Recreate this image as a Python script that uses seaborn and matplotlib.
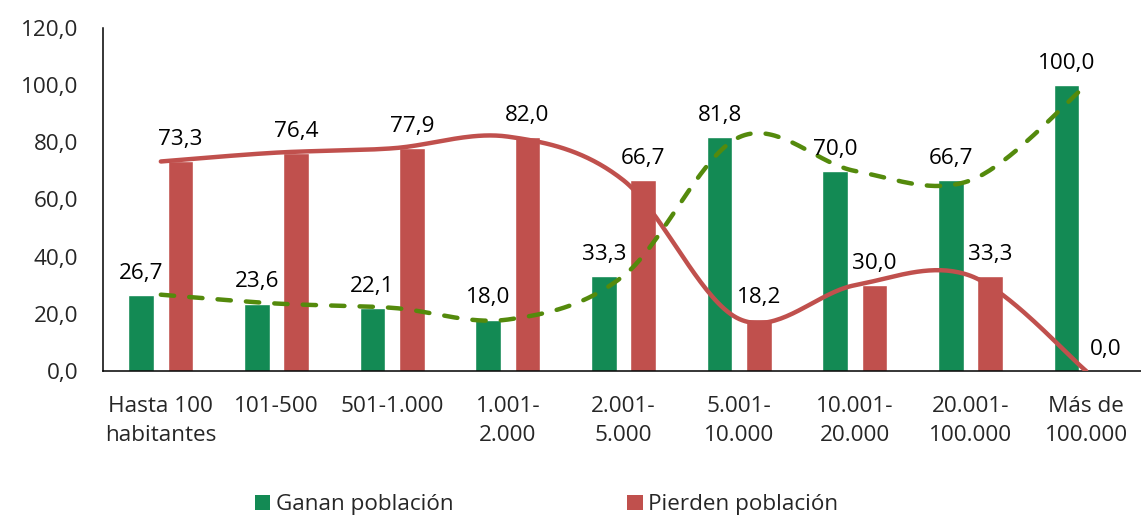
import numpy as np
import pandas as pd
import seaborn as sns
import matplotlib.pyplot as plt
from matplotlib.patches import Patch

categories = ["Hasta 100\nhabitantes", "101-500", "501-1.000", "1.001-\n2.000",
              "2.001-\n5.000", "5.001-\n10.000", "10.001-\n20.000",
              "20.001-\n100.000", "Más de\n100.000"]
ganan = [26.7, 23.6, 22.1, 18.0, 33.3, 81.8, 70.0, 66.7, 100.0]
pierden = [73.3, 76.4, 77.9, 82.0, 66.7, 18.2, 30.0, 33.3, 0.0]
series = ["Ganan población", "Pierden población"]
yticks = [0, 20, 40, 60, 80, 100, 120]

GREEN = "#138A54"
RED = "#C0504D"
LINE_GREEN = "#548A0C"

sns.set_style("white")
plt.rcParams['font.family'] = ['Open Sans', 'DejaVu Sans']
FS = 16.2

W, H = 1141, 519
fig = plt.figure(figsize=(W / 100, H / 100), dpi=100)
ax = fig.add_axes([103 / W, 1 - 371 / H, (1144 - 103) / W, (371 - 28) / H])

df = pd.DataFrame({
    "cat": categories * 2,
    "val": ganan + pierden,
    "serie": [series[0]] * len(categories) + [series[1]] * len(categories),
})
sns.barplot(data=df, x="cat", y="val", hue="serie", order=categories,
            hue_order=series, palette=[GREEN, RED], width=0.68, gap=0.35,
            saturation=1, legend=False, ax=ax, zorder=2)

def fmt(v):
    return f"{v:.1f}".replace(".", ",")

for cont, vals in zip(ax.containers, [ganan, pierden]):
    ax.bar_label(cont, labels=[fmt(v) for v in vals], padding=8,
                 fontsize=FS, color="black", zorder=5)


def smooth(xs, ys, n=40):
    pts = np.column_stack([xs, ys]).astype(float)
    out = []
    for i in range(len(pts) - 1):
        p0 = pts[i - 1] if i > 0 else pts[i]
        p1, p2 = pts[i], pts[i + 1]
        p3 = pts[i + 2] if i + 2 < len(pts) else pts[i + 1]
        c1 = p1 + (p2 - p0) / 6.0
        c2 = p2 - (p3 - p1) / 6.0
        t = np.linspace(0, 1, n)[:, None]
        seg = ((1 - t) ** 3) * p1 + 3 * ((1 - t) ** 2) * t * c1 + 3 * (1 - t) * t ** 2 * c2 + t ** 3 * p2
        out.append(seg if i == 0 else seg[1:])
    out = np.vstack(out)
    return out[:, 0], out[:, 1]

xpos = np.arange(len(categories))
gx, gy = smooth(xpos, ganan)
rx, ry = smooth(xpos, pierden)
ax.plot(rx, ry, color=RED, lw=3.2, solid_capstyle="round", zorder=3)
ax.plot(gx, gy, color=LINE_GREEN, lw=3.2, linestyle=(0, (3.0, 3.4)),
        dash_capstyle="round", zorder=3)

ax.set_xlim(-0.5, len(categories) - 0.5)
ax.set_ylim(0, 120)
ax.set_yticks(yticks)
ax.set_yticklabels([fmt(v) for v in yticks], fontsize=FS)
ax.set_xticks(xpos)
ax.set_xticklabels(categories, fontsize=FS)
for lbl in ax.get_xticklabels():
    lbl.set_linespacing(1.5)
ax.set_xticks(np.arange(-0.5, len(categories), 1), minor=True)
ax.set_xlabel("")
ax.set_ylabel("")
ax.tick_params(axis="x", which="major", length=0, pad=18)
ax.tick_params(axis="x", which="minor", length=11, width=1.1, direction="inout", color="black")
ax.tick_params(axis="y", which="major", length=12, width=1.1, direction="inout", pad=12, color="black")
for s in ["top", "right"]:
    ax.spines[s].set_visible(False)
for s in ["left", "bottom"]:
    ax.spines[s].set_color("black")
    ax.spines[s].set_linewidth(1.1)
ax.grid(False)

handles = [Patch(facecolor=GREEN, edgecolor="none"), Patch(facecolor=RED, edgecolor="none")]
fig.legend(handles, series, loc="center", bbox_to_anchor=(0.479, 0.027), ncol=2,
           frameon=False, handlelength=0.7, handleheight=0.7, handletextpad=0.25,
           columnspacing=7.7, fontsize=FS)

fig.savefig("out.png", dpi=100)
